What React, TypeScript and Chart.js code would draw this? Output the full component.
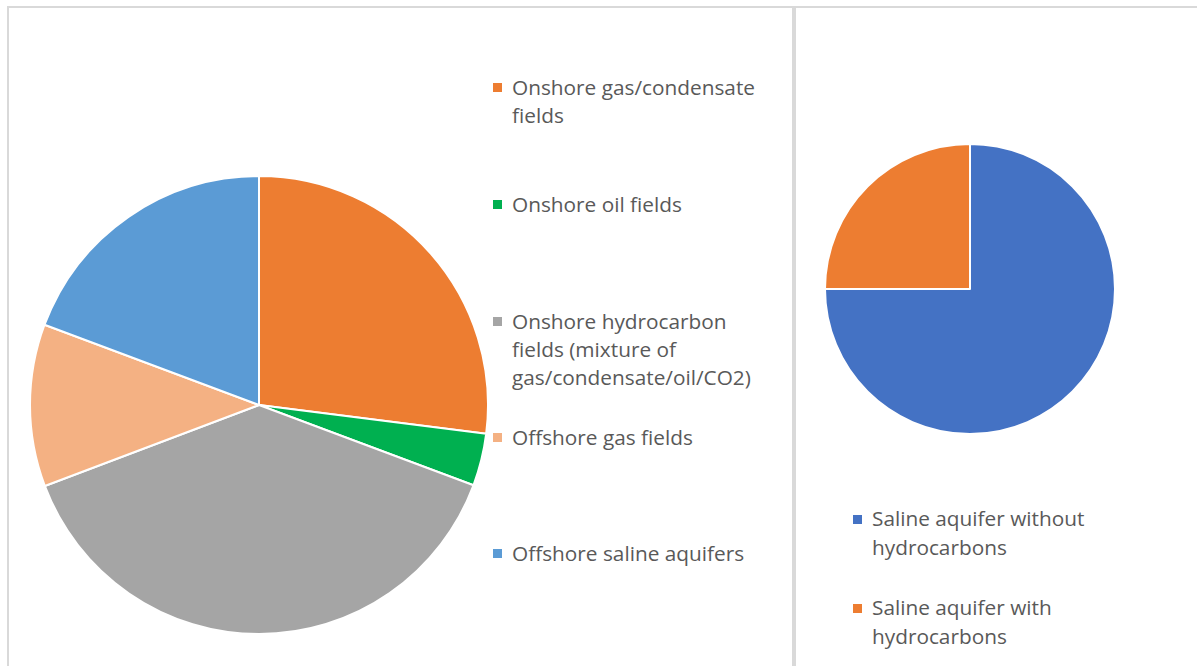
import React, { useEffect, useRef } from "react";
import { Chart, registerables } from "chart.js";

Chart.register(...registerables);

const leftLabels = [
  "Onshore gas/condensate\nfields",
  "Onshore oil fields",
  "Onshore hydrocarbon\nfields (mixture of\ngas/condensate/oil/CO2)",
  "Offshore gas fields",
  "Offshore saline aquifers",
];
const leftValues = [27, 3.7, 38.55, 11.45, 19.3];
const leftColors = ["#ED7D31", "#00B050", "#A5A5A5", "#F4B183", "#5B9BD5"];

const rightLabels = ["Saline aquifer without\nhydrocarbons", "Saline aquifer with\nhydrocarbons"];
const rightValues = [75, 25];
const rightColors = ["#4472C4", "#ED7D31"];

const leftLegendTops = [73, 190, 307, 423, 539];
const rightLegendTops = [504, 593];

function PieCanvas(props: { labels: string[]; values: number[]; colors: string[]; size: number; left: number; top: number }) {
  const ref = useRef<HTMLCanvasElement | null>(null);
  useEffect(() => {
    if (!ref.current) return;
    const chart = new Chart(ref.current, {
      type: "pie",
      data: {
        labels: props.labels,
        datasets: [
          {
            data: props.values,
            backgroundColor: props.colors,
            borderColor: "#ffffff",
            borderWidth: 2,
          },
        ],
      },
      options: {
        animation: false,
        responsive: false,
        maintainAspectRatio: false,
        devicePixelRatio: 1,
        layout: { padding: 0 },
        plugins: { legend: { display: false }, tooltip: { enabled: false } },
      },
    });
    return () => chart.destroy();
  }, []);
  return (
    <canvas
      ref={ref}
      width={props.size}
      height={props.size}
      style={{ position: "absolute", left: props.left, top: props.top, width: props.size, height: props.size }}
    />
  );
}

function Legend(props: { labels: string[]; colors: string[]; tops: number[]; left: number; lineHeight: number }) {
  return (
    <>
      {props.labels.map((l, i) => (
        <div
          key={i}
          style={{
            position: "absolute",
            left: props.left,
            top: props.tops[i],
            fontFamily: "'Open Sans', sans-serif",
            fontSize: 20.8,
            lineHeight: props.lineHeight + "px",
            color: "#595959",
            whiteSpace: "pre",
          }}
        >
          <span
            style={{
              position: "absolute",
              left: -19,
              top: Math.round(props.lineHeight / 2 - 4),
              width: 9,
              height: 9,
              background: props.colors[i],
            }}
          />
          {l}
        </div>
      ))}
    </>
  );
}

export default function App() {
  return (
    <div style={{ position: "fixed", left: 0, top: 0, width: 1197, height: 666, overflow: "hidden", background: "#fff" }}>
      <div
        style={{
          position: "absolute",
          left: 7,
          top: 6,
          width: 787,
          height: 700,
          border: "2px solid #d9d9d9",
          boxSizing: "border-box",
        }}
      />
      <div
        style={{
          position: "absolute",
          left: 794,
          top: 6,
          width: 450,
          height: 700,
          border: "2px solid #d9d9d9",
          boxSizing: "border-box",
        }}
      />
      <PieCanvas labels={leftLabels} values={leftValues} colors={leftColors} size={460} left={29} top={175} />
      <PieCanvas labels={rightLabels} values={rightValues} colors={rightColors} size={292} left={824} top={143} />
      <Legend labels={leftLabels} colors={leftColors} tops={leftLegendTops} left={512} lineHeight={28} />
      <Legend labels={rightLabels} colors={rightColors} tops={rightLegendTops} left={872} lineHeight={29} />
    </div>
  );
}
